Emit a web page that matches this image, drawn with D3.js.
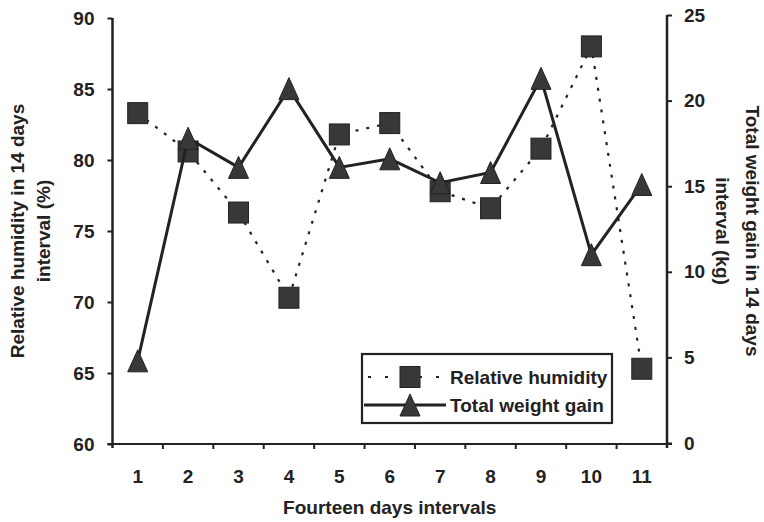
<!DOCTYPE html>
<html>
<head>
<meta charset="utf-8">
<script src="https://cdn.jsdelivr.net/npm/d3@7"></script>
<style>
  html, body { margin: 0; padding: 0; background: #fff; }
  svg { display: block; }
  text { font-family: "Liberation Sans", Arial, Helvetica, sans-serif; font-weight: bold; fill: #222; }
</style>
</head>
<body>
<svg id="chart" width="764" height="522"></svg>
<script>
const categories = ["1", "2", "3", "4", "5", "6", "7", "8", "9", "10", "11"];
const humidity = [83.3, 80.6, 76.3, 70.3, 81.8, 82.6, 77.8, 76.6, 80.8, 88.0, 65.3];
const weightGain = [4.8, 17.8, 16.1, 20.7, 16.1, 16.6, 15.2, 15.8, 21.3, 11.0, 15.1];
const leftTicks = [60, 65, 70, 75, 80, 85, 90];
const rightTicks = [0, 5, 10, 15, 20, 25];
const seriesNames = ["Relative humidity", "Total weight gain"];
const xTitle = "Fourteen days intervals";
const leftTitle = ["Relative humidity in 14 days", "interval (%)"];
const rightTitle = ["Total weight gain in 14 days", "interval (kg)"];

const svg = d3.select("#chart");
const ink = "#222";
const markFill = "#383838";
const FS = 19;

const plot = { left: 112.5, right: 667, top: 18, bottom: 444 };

const x = d3.scaleBand().domain(categories).range([plot.left, plot.right]).padding(0);
const yL = d3.scaleLinear().domain([60, 90]).range([plot.bottom, plot.top]);
const yR = d3.scaleLinear().domain([0, 25]).range([443, 15]);
const cx = d => x(d) + x.bandwidth() / 2;

// Axes
const gx = svg.append("g").attr("transform", `translate(0,${plot.bottom})`)
  .call(d3.axisBottom(x).tickSize(0).tickPadding(26));
gx.select(".domain").remove();
gx.selectAll("text").attr("font-size", FS).style("font-family", "Liberation Sans, Arial, sans-serif").style("font-weight", "bold").attr("fill", ink);
svg.append("line").attr("x1", plot.left - 5).attr("x2", plot.right + 5)
  .attr("y1", plot.bottom).attr("y2", plot.bottom).attr("stroke", ink).attr("stroke-width", 2.2);
// band boundary ticks
svg.append("g").selectAll("line").data(categories.slice(1)).join("line")
  .attr("x1", d => x(d)).attr("x2", d => x(d))
  .attr("y1", plot.bottom).attr("y2", plot.bottom + 5)
  .attr("stroke", ink).attr("stroke-width", 2);

const gl = svg.append("g").attr("transform", `translate(${plot.left},0)`)
  .call(d3.axisLeft(yL).tickValues(leftTicks).tickSize(5).tickPadding(13));
gl.select(".domain").remove();
gl.selectAll("line").attr("stroke", ink).attr("stroke-width", 2);
gl.selectAll("text").attr("font-size", FS).style("font-family", "Liberation Sans, Arial, sans-serif").style("font-weight", "bold").attr("fill", ink);
svg.append("line").attr("x1", plot.left).attr("x2", plot.left)
  .attr("y1", plot.top).attr("y2", plot.bottom + 4).attr("stroke", ink).attr("stroke-width", 2.5);

const gr = svg.append("g").attr("transform", `translate(${plot.right},0)`)
  .call(d3.axisRight(yR).tickValues(rightTicks).tickSize(5).tickPadding(12));
gr.select(".domain").remove();
gr.selectAll("line").attr("stroke", ink).attr("stroke-width", 2);
gr.selectAll("text").attr("font-size", FS).style("font-family", "Liberation Sans, Arial, sans-serif").style("font-weight", "bold").attr("fill", ink);
svg.append("line").attr("x1", plot.right).attr("x2", plot.right)
  .attr("y1", yR(25)).attr("y2", plot.bottom + 4).attr("stroke", ink).attr("stroke-width", 2.5);

// Titles
svg.append("text").attr("x", (plot.left + plot.right) / 2).attr("y", 514)
  .attr("text-anchor", "middle").attr("font-size", FS).text(xTitle);
const midY = (plot.top + plot.bottom) / 2;
svg.append("text").attr("transform", `translate(24,${midY}) rotate(-90)`)
  .attr("text-anchor", "middle").attr("font-size", FS).text(leftTitle[0]);
svg.append("text").attr("transform", `translate(50,${midY}) rotate(-90)`)
  .attr("text-anchor", "middle").attr("font-size", FS).text(leftTitle[1]);
svg.append("text").attr("transform", `translate(746,${midY}) rotate(90)`)
  .attr("text-anchor", "middle").attr("font-size", FS).text(rightTitle[0]);
svg.append("text").attr("transform", `translate(716,${midY}) rotate(90)`)
  .attr("text-anchor", "middle").attr("font-size", FS).text(rightTitle[1]);

// Humidity series
const hData = categories.map((c, i) => ({ c, v: humidity[i] }));
const wData = categories.map((c, i) => ({ c, v: weightGain[i] }));
const triPath = "M0,-11L10,11L-10,11Z";

svg.append("path").datum(hData)
  .attr("d", d3.line().x(d => cx(d.c)).y(d => yL(d.v)))
  .attr("fill", "none").attr("stroke", ink).attr("stroke-width", 2.2)
  .attr("stroke-dasharray", "3,8");
svg.append("g").selectAll("rect").data(hData).join("rect")
  .attr("x", d => cx(d.c) - 10).attr("y", d => yL(d.v) - 10.5)
  .attr("width", 20).attr("height", 21)
  .attr("fill", markFill).attr("stroke", ink).attr("stroke-width", 1);

// Weight series
svg.append("path").datum(wData)
  .attr("d", d3.line().x(d => cx(d.c)).y(d => yR(d.v)))
  .attr("fill", "none").attr("stroke", ink).attr("stroke-width", 3);
svg.append("g").selectAll("path").data(wData).join("path")
  .attr("transform", d => `translate(${cx(d.c)},${yR(d.v)})`)
  .attr("d", triPath).attr("fill", markFill).attr("stroke", ink).attr("stroke-width", 1);

// Legend
const lg = svg.append("g");
lg.append("rect").attr("x", 362).attr("y", 354).attr("width", 250).attr("height", 69)
  .attr("fill", "#fff").attr("stroke", ink).attr("stroke-width", 2.2);
const rows = [377, 405];
lg.append("line").attr("x1", 368).attr("x2", 446).attr("y1", rows[0]).attr("y2", rows[0])
  .attr("stroke", ink).attr("stroke-width", 2.2).attr("stroke-dasharray", "3,14");
lg.append("rect").attr("x", 400).attr("y", rows[0] - 10.5).attr("width", 20).attr("height", 21)
  .attr("fill", markFill).attr("stroke", ink).attr("stroke-width", 1);
lg.append("line").attr("x1", 364).attr("x2", 446).attr("y1", rows[1]).attr("y2", rows[1])
  .attr("stroke", ink).attr("stroke-width", 3);
lg.append("path").attr("transform", `translate(410,${rows[1]})`).attr("d", triPath)
  .attr("fill", markFill).attr("stroke", ink).attr("stroke-width", 1);
lg.selectAll("text.lt").data(seriesNames).join("text").attr("class", "lt")
  .attr("x", 450).attr("y", (d, i) => rows[i]).attr("dy", "0.36em")
  .attr("font-size", FS).text(d => d);
</script>
</body>
</html>
